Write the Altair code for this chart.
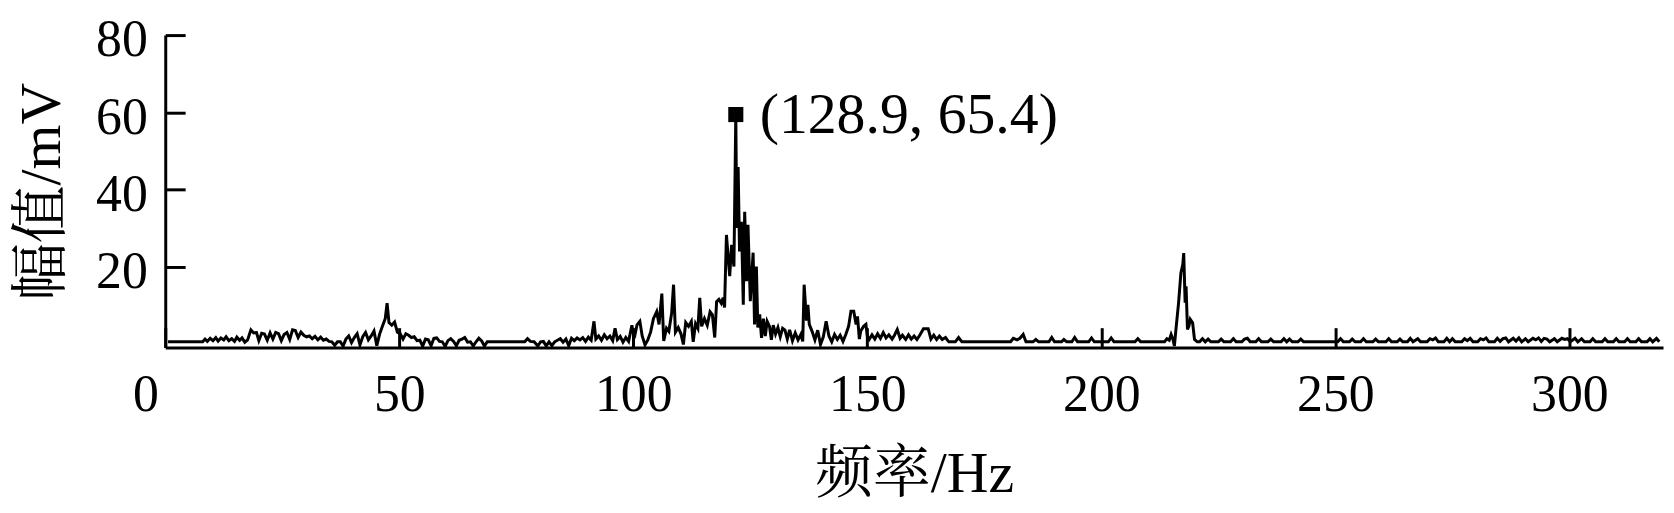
import altair as alt
import pandas as pd

# ---- data (frequency in Hz, amplitude in mV) ----
freq = [
    0.6, 8.0, 8.5, 9.0, 9.6, 10.2, 10.8, 11.3, 11.9, 12.5, 13.0, 13.6, 14.2, 14.8, 15.3, 15.9, 16.4, 17.0,
    17.6, 18.3, 18.9, 19.5, 20.0, 20.6, 21.2, 21.8, 22.4, 23.0, 23.6, 24.2, 24.8, 25.4, 26.0, 26.6,
    27.2, 27.8, 28.4, 29.0, 29.6, 30.2, 30.8, 31.4, 32.0, 32.6, 33.2, 33.8, 34.4, 35.0, 35.6, 36.2,
    36.8, 37.4, 38.0, 38.6, 39.2, 39.8, 40.4, 41.0, 41.6, 42.2, 42.8, 43.4, 44.0, 44.6, 45.2, 45.8,
    46.4, 47.0, 47.4, 47.8, 48.4, 49.0, 49.6, 50.2, 50.8, 51.4, 52.0, 52.6, 53.2, 53.8, 54.4, 55.0,
    55.6, 56.2, 56.8, 57.4, 58.0, 58.6, 59.2, 59.8, 60.4, 61.0, 61.6, 62.2, 62.8, 63.4, 64.0, 64.6,
    65.2, 65.8, 66.4, 67.0, 67.6, 68.2, 68.8, 69.4, 70.0, 71.7, 76.8, 77.4, 78.0, 78.8, 79.6, 80.2,
    80.8, 81.4, 82.0, 82.6, 83.2, 83.8, 84.4, 85.0, 85.6, 86.2, 86.8, 87.4, 88.0, 88.6, 89.2, 89.8,
    90.4, 91.0, 91.6, 92.0, 92.6, 93.2, 93.8, 94.4, 95.0, 95.6, 96.1, 96.6, 97.2, 97.8, 98.4, 99.0,
    99.7, 100.2, 100.8, 101.4, 101.9, 102.5, 103.1, 103.7, 104.3, 105.0, 105.5, 106.1, 106.5, 107.1,
    107.6, 108.2, 108.6, 109.0, 109.6, 110.2, 110.7, 111.2, 111.8, 112.4, 112.8, 113.3, 113.8, 114.2,
    114.6, 115.2, 115.8, 116.4, 116.9, 117.4, 117.8, 118.3, 118.8, 119.2, 119.5, 119.9, 120.3, 120.6,
    121.0, 121.5, 121.9, 122.1, 122.4, 122.7, 123.1, 123.5, 123.8, 124.2, 124.5, 125.0, 125.6, 125.9,
    126.3, 126.6, 127.0, 127.4, 127.8, 128.2, 128.6, 129.1, 129.5, 129.9, 130.4, 130.9, 131.4, 131.9,
    132.4, 132.9, 133.4, 134.0, 134.6, 135.2, 135.8, 136.2, 136.5, 137.0, 137.3, 137.6, 138.2, 138.8,
    139.4, 140.0, 140.6, 141.2, 141.8, 142.4, 143.0, 143.6, 144.2, 144.8, 145.4, 146.0, 146.5, 147.1,
    147.6, 147.9, 148.3, 148.6, 149.2, 149.7, 150.0, 150.4, 151.0, 151.6, 152.2, 152.8, 153.4, 154.0,
    154.6, 155.3, 155.8, 156.4, 157.0, 157.5, 158.2, 158.8, 159.4, 160.0, 160.6, 161.2, 162.0, 163.0,
    163.6, 164.2, 164.8, 165.4, 166.0, 166.7, 167.4, 168.8, 169.5, 170.2, 180.6, 181.2, 182.0, 182.6,
    183.3, 183.9, 185.4, 186.0, 186.6, 188.8, 189.4, 190.0, 191.5, 192.0, 192.6, 193.7, 194.3, 194.9,
    197.3, 197.9, 198.5, 201.5, 202.1, 202.7, 207.2, 207.8, 208.4, 213.5, 214.0, 214.5, 214.9, 215.3,
    215.6, 216.0, 216.5, 217.0, 217.4, 217.6, 217.9, 218.1, 218.4, 218.7, 219.0, 219.5, 219.9, 220.5,
    221.0, 221.6, 222.2, 222.8, 223.4, 225.0, 225.6, 226.2, 227.6, 228.2, 228.8, 230.0, 230.6, 231.2,
    231.8, 233.0, 233.6, 234.2, 235.6, 236.2, 236.8, 238.4, 239.0, 239.6, 240.2, 240.8, 242.0, 242.6,
    243.2, 250.5, 251.1, 251.7, 253.0, 253.6, 254.2, 255.4, 256.0, 256.6, 258.0, 258.6, 259.2, 260.8,
    261.4, 262.0, 263.2, 263.8, 264.4, 265.4, 266.0, 266.6, 267.6, 268.2, 269.6, 270.2, 270.8, 271.4,
    272.0, 273.2, 273.8, 274.4, 275.0, 275.6, 277.0, 277.6, 278.2, 278.8, 279.4, 280.4, 281.0, 281.6,
    282.2, 282.8, 284.0, 284.6, 285.2, 285.8, 286.4, 287.0, 288.0, 288.6, 289.2, 289.8, 290.6, 291.2,
    292.2, 292.8, 293.4, 294.0, 294.6, 295.2, 295.8, 296.8, 297.4, 298.4, 299.0, 299.6, 300.2, 301.2,
    301.8, 302.6, 303.2, 304.4, 305.0, 305.6, 307.0, 307.6, 308.2, 309.4, 310.0, 310.6, 311.8, 312.4,
    313.0, 314.2, 314.8, 315.4, 316.6, 317.2, 317.8, 318.6, 319.2,
]
amp = [
    0.5, 0.5, 1.2, 0.6, 1.4, 0.8, 1.6, 0.7, 1.5, 1.0, 1.8, 0.8, 1.3, 0.6, 1.7, 0.9, 1.5, 0.4,
    1.0, 3.6, 2.8, 2.9, 0.8, 2.7, 2.5, 0.9, 2.8, 1.2, 2.9, 2.6, 0.8, 2.4, 2.9, 1.1,
    3.6, 3.4, 1.6, 3.0, 2.2, 1.8, 2.0, 1.3, 1.9, 1.0, 1.7, 0.9, 1.2, 0.6, 0.5, -0.4,
    0.5, 0.5, -0.6, 1.2, 2.0, 0.3, 1.6, 2.6, -0.3, 1.8, 2.9, 1.0, 2.0, 3.3, -0.5, 2.5,
    4.5, 6.5, 10.5, 5.5, 4.8, 5.6, 3.0, 2.6, 1.2, 2.6, 2.2, 1.6, 1.8, 0.8, 0.9, -0.6,
    1.2, 1.0, -0.5, 1.4, 1.5, 0.6, 0.5, -0.7, 0.8, 1.3, 0.6, -0.5, 0.9, 1.2, 1.6, 0.4,
    0.5, -0.6, 0.5, 1.4, 0.7, -0.6, 0.5, 0.5, 0.5, 0.5, 0.5, 1.3, 0.6, 0.5, -0.6, 0.5,
    0.6, -0.6, 0.5, -0.5, 0.5, 0.9, 1.3, 0.4, 1.2, -0.5, 1.4, 0.8, 1.5, 1.0, 1.6, 0.6,
    1.7, 0.9, 5.8, 1.2, 2.0, 0.9, 2.3, 1.3, 2.0, 0.8, 4.0, 1.1, 1.9, 0.4, 1.6, 0.6,
    4.8, 1.4, 4.9, 5.8, 2.0, -0.3, 1.0, 3.0, 6.5, 8.3, 5.0, 13.0, 0.7, 4.0,
    3.2, 8.0, 15.3, 3.0, 4.2, 2.5, -0.2, 5.5, 4.5, 5.8, 0.5, 5.2, 4.0, 11.9,
    4.5, 6.5, 4.8, 8.3, 7.5, 1.6, 10.9, 11.5, 10.5, 11.9, 9.4, 28.2, 22.0, 17.5,
    25.6, 20.0, 59.4, 30.0, 45.8, 23.9, 31.6, 10.1, 34.2, 16.2, 30.8, 11.0, 23.6, 5.0,
    20.0, 4.2, 7.6, 1.5, 6.5, 2.0, 5.8, 4.5, 1.0, 4.8, 2.5, 4.2, 1.8, 4.0,
    3.5, 1.2, 3.6, 0.8, 2.8, 1.0, 2.4, 0.6, 15.3, 6.0, 10.1, 5.0, 3.2, 1.0,
    3.5, -0.2, 1.8, 5.8, 2.0, 0.5, 2.4, 1.1, 2.2, 0.6, 2.4, 4.5, 8.4, 8.4,
    5.0, 7.1, 1.2, 3.3, 4.5, 5.0, 2.0, 1.1, 2.3, 1.2, 2.6, 1.4, 2.9, 1.5,
    2.3, 1.2, 2.2, 3.7, 1.4, 2.2, 1.1, 2.3, 1.2, 2.0, 1.1, 2.2, 3.9, 3.9,
    1.2, 2.2, 1.1, 2.0, 1.1, 1.6, 0.5, 0.5, 1.6, 0.5, 0.5, 1.4, 1.0, 1.4,
    2.4, 0.5, 0.5, 1.1, 0.5, 0.5, 1.6, 0.5, 0.5, 1.1, 0.5, 0.5, 1.6, 0.5,
    0.5, 1.5, 0.5, 0.5, 1.5, 0.5, 0.5, 1.3, 0.5, 0.5, 1.3, 0.9, 2.4, 1.1,
    -0.6, 4.5, 10.6, 18.4, 20.5, 23.5, 10.6, 14.9, 3.7, 4.5, 6.3, 5.4, 1.1, 0.5,
    0.5, 1.3, 0.5, 1.2, 0.5, 0.5, 1.2, 0.5, 0.5, 1.3, 0.5, 0.5, 1.2, 1.4,
    0.5, 0.5, 1.3, 0.5, 0.5, 1.2, 0.5, 0.5, 1.3, 0.5, 1.2, 0.5, 0.5, 1.2,
    0.5, 0.5, 1.3, 0.5, 0.5, 1.2, 0.5, 0.5, 1.3, 0.5, 0.5, 1.2, 0.5, 0.5,
    1.3, 0.5, 0.5, 1.2, 0.5, 0.5, 1.4, 0.5, 1.3, 0.5, 0.5, 1.3, 1.0, 1.5,
    0.5, 0.5, 1.4, 0.5, 1.3, 0.5, 0.5, 1.3, 0.8, 1.4, 0.5, 0.5, 1.3, 1.0,
    1.5, 0.5, 0.5, 1.4, 0.6, 1.3, 1.5, 0.5, 1.4, 0.7, 1.5, 0.5, 1.3, 0.5,
    1.4, 1.0, 1.5, 0.6, 1.4, 1.2, 0.5, 1.3, 0.5, 1.4, 1.1, 1.3, 0.5, 1.4,
    0.5, 1.3, 0.5, 0.5, 1.3, 0.5, 0.5, 1.3, 0.5, 0.5, 1.3, 0.5, 0.5, 1.3,
    0.5, 0.5, 1.3, 0.5, 0.5, 1.3, 0.5, 1.4, 0.5,
]

peak_freq = [121.9]
peak_amp = [59.4]
peak_label = ["(128.9, 65.4)"]

x_ticks = [0, 50, 100, 150, 200, 250, 300]
y_ticks = [20, 40, 60, 80]

FONT = "Liberation Serif, Times New Roman, Noto Serif CJK SC, Noto Sans CJK SC"

df = pd.DataFrame({"freq": freq, "amp": amp})
peak = pd.DataFrame({"freq": peak_freq, "amp": peak_amp, "label": peak_label})

x_enc = alt.X(
    "freq:Q",
    scale=alt.Scale(domain=[0, 320], nice=False, zero=False),
    axis=alt.Axis(
        values=x_ticks,
        title="频率/Hz",
        labelOffset={"condition": {"test": "datum.value === 0", "value": -33}, "value": 0},
        labelPadding=42,
        titlePadding=26,
    ),
)
y_enc = alt.Y(
    "amp:Q",
    scale=alt.Scale(domain=[-1, 80], nice=False, zero=False),
    axis=alt.Axis(
        values=y_ticks,
        title="幅值/mV",
        labelPadding=38,
        labelOffset=5,
        titlePadding=24,
    ),
)

line = alt.Chart(df).mark_line(color="black", strokeWidth=3, clip=True).encode(
    x=x_enc, y=y_enc
)

marker = alt.Chart(peak).mark_point(
    shape="square", filled=True, color="black", size=230, opacity=1
).encode(x="freq:Q", y="amp:Q")

label = alt.Chart(peak).mark_text(
    align="left", baseline="middle", dx=24, dy=2, fontSize=58, font=FONT, color="black"
).encode(x="freq:Q", y="amp:Q", text="label:N")

chart = (
    alt.layer(line, marker, label)
    .properties(
        width=1505,
        height=314,
        autosize=alt.AutoSizeParams(type="none"),
        padding={"left": 158, "top": 26, "right": 3, "bottom": 164},
        background="white",
    )
    .configure_view(stroke=None)
    .configure_axis(
        grid=False,
        domainColor="black",
        domainWidth=3,
        tickColor="black",
        tickWidth=3,
        tickSize={"expr": "-20"},
        labelFont=FONT,
        labelFontSize=52,
        labelColor="black",
        titleFont=FONT,
        titleFontSize=58,
        titleFontWeight="normal",
        titleColor="black",
    )
)

chart.save("out.html", embed_options={"renderer": "svg", "actions": False})
